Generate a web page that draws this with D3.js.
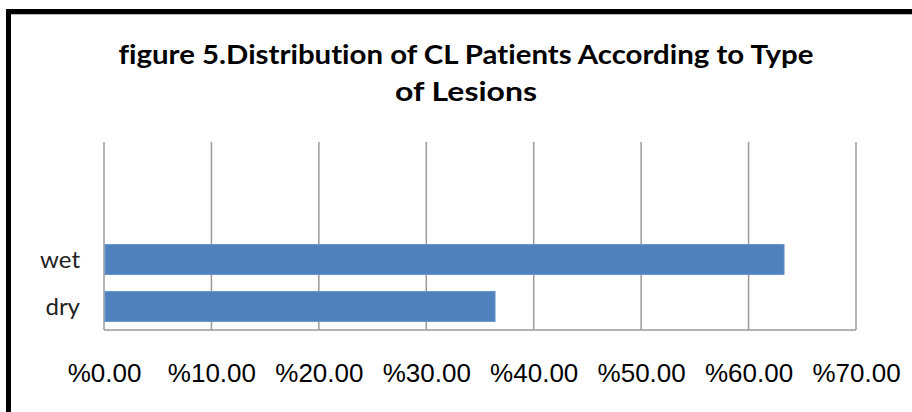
<!DOCTYPE html>
<html><head><meta charset="utf-8">
<script src="https://cdn.jsdelivr.net/npm/d3@7"></script>
<style>html,body{margin:0;padding:0;background:#fff;} text{font-variant-ligatures:none;font-feature-settings:"liga" 0;}</style>
</head><body>
<svg id="chart" width="912" height="412"></svg>
<script>
const titleLines = ["figure 5.Distribution of CL Patients According to Type", "of Lesions"];
const categories = ["wet", "dry"];
const values = [63.3, 36.4];
const tickValues = [0, 10, 20, 30, 40, 50, 60, 70];
const tickLabels = ["%0.00", "%10.00", "%20.00", "%30.00", "%40.00", "%50.00", "%60.00", "%70.00"];

const svg = d3.select("#chart");
svg.append("rect").attr("width", 912).attr("height", 412).attr("fill", "#fff");

// outer frame (only top and left visible)
svg.append("line").attr("x1", 8.5).attr("x2", 912).attr("y1", 11.5).attr("y2", 11.5)
  .attr("stroke", "#000").attr("stroke-width", 5);
svg.append("line").attr("x1", 8.5).attr("x2", 8.5).attr("y1", 9).attr("y2", 412)
  .attr("stroke", "#000").attr("stroke-width", 5);
svg.append("line").attr("x1", 11).attr("x2", 912).attr("y1", 14.5).attr("y2", 14.5)
  .attr("stroke", "#bbb").attr("stroke-width", 1);

const x = d3.scaleLinear().domain([0, 70]).range([104, 856]);
const y = d3.scaleBand().domain(categories).range([236, 330]).paddingInner(0.36).paddingOuter(0.18);
const plotTop = 142, plotBottom = 330;

// title
const titleWidths = [695, 142];
const title = svg.append("text").attr("text-anchor", "middle")
  .attr("font-family", "Lato, 'Open Sans', sans-serif").attr("font-weight", "bold")
  .attr("font-size", 27).attr("fill", "#000");
title.selectAll("tspan").data(titleLines).join("tspan")
  .attr("x", 466).attr("y", (d, i) => 64 + i * 37)
  .attr("textLength", (d, i) => titleWidths[i]).attr("lengthAdjust", "spacingAndGlyphs")
  .text(d => d);

// gridlines
svg.append("g").selectAll("line").data(tickValues).join("line")
  .attr("x1", d => x(d)).attr("x2", d => x(d))
  .attr("y1", plotTop).attr("y2", plotBottom)
  .attr("stroke", "#9a9a9a").attr("stroke-width", 1.5);

// bottom axis line
svg.append("line").attr("x1", x(0)).attr("x2", x(70)).attr("y1", plotBottom).attr("y2", plotBottom)
  .attr("stroke", "#9a9a9a").attr("stroke-width", 1.5);

// bars
svg.append("g").selectAll("rect").data(categories).join("rect")
  .attr("x", x(0) + 1).attr("y", d => y(d))
  .attr("width", (d, i) => x(values[i]) - x(0) - 1)
  .attr("height", y.bandwidth())
  .attr("fill", "#4f81bd").attr("stroke", "#6a95c9").attr("stroke-width", 1);

// category labels
svg.append("g").selectAll("text").data(categories).join("text")
  .attr("x", 80).attr("y", d => y(d) + y.bandwidth() / 2)
  .attr("dy", "0.35em").attr("text-anchor", "end")
  .attr("font-family", "Lato, 'Open Sans', sans-serif").attr("font-size", 24)
  .attr("fill", "#222").text(d => d);

// x tick labels via axis
const xAxis = d3.axisBottom(x).tickValues(tickValues).tickFormat((d, i) => tickLabels[i]).tickSize(0).tickPadding(0);
const gx = svg.append("g").attr("transform", "translate(0,382)").call(xAxis);
gx.select(".domain").remove();
gx.selectAll("text").attr("font-family", "'Liberation Sans', Arial, sans-serif")
  .attr("font-size", 26).attr("fill", "#000").attr("dy", 0).attr("y", 0);
</script>
</body></html>
